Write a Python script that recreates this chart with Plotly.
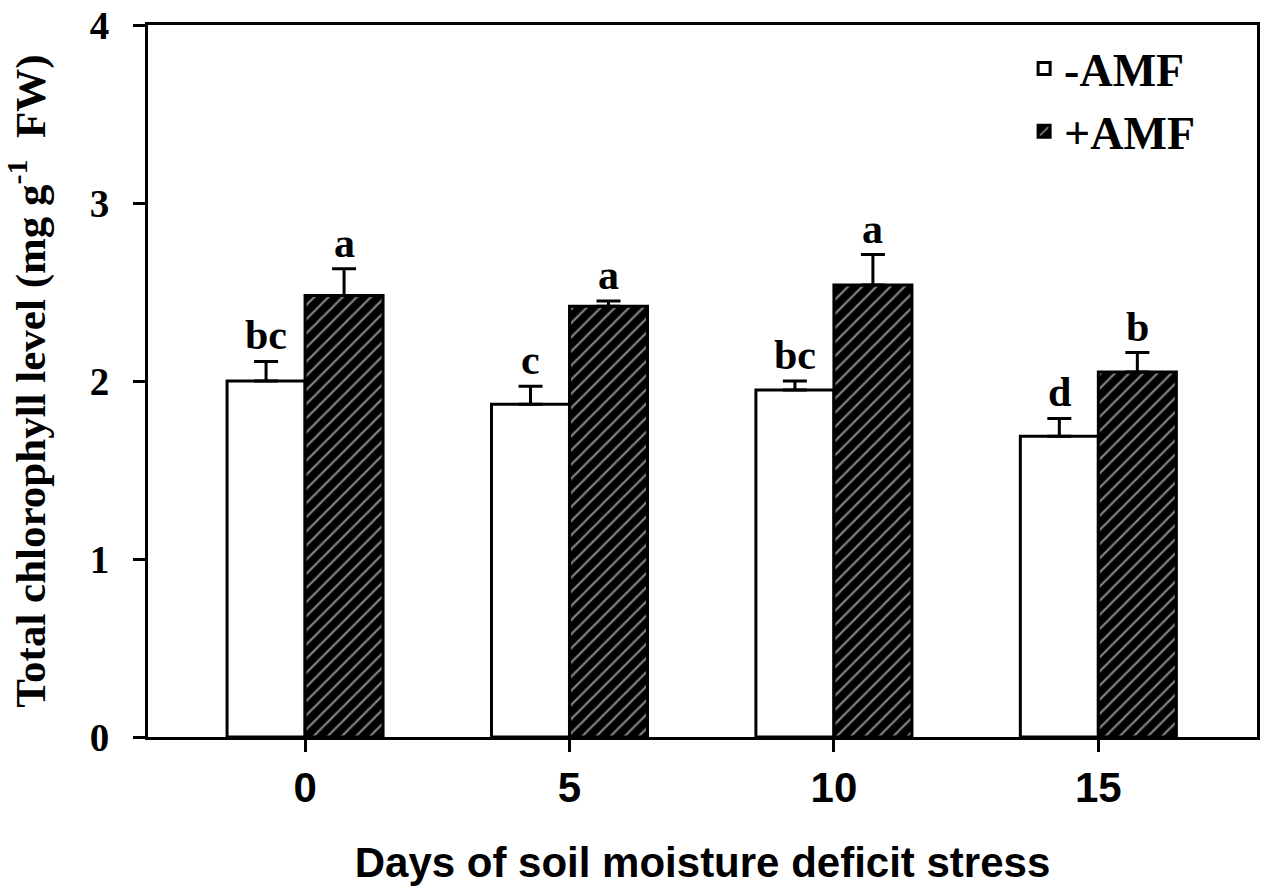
import plotly.graph_objects as go

# days of soil moisture deficit stress
days = [0, 5, 10, 15]
day_labels = ["0", "5", "10", "15"]

# total chlorophyll (mg g-1 FW), means and SE
no_amf = [2.00, 1.87, 1.95, 1.69]
no_amf_err = [0.11, 0.10, 0.05, 0.10]
amf = [2.48, 2.42, 2.54, 2.05]
amf_err = [0.15, 0.03, 0.17, 0.11]

# significance letters
no_amf_letters = ["bc", "c", "bc", "d"]
amf_letters = ["a", "a", "a", "b"]

serif = "Liberation Serif, Times New Roman, serif"
sans = "Liberation Sans, Arial, sans-serif"

bargap = 0.41
bar_w = 5 * (1 - bargap) / 2

fig = go.Figure()
fig.add_trace(go.Bar(
    x=days, y=no_amf, name="-AMF",
    marker=dict(color="white", line=dict(color="black", width=3)),
    error_y=dict(type="data", array=no_amf_err, arrayminus=[0] * len(days),
                 symmetric=False, color="black", thickness=3, width=12),
))
fig.add_trace(go.Bar(
    x=days, y=amf, name="+AMF",
    marker=dict(color="black", line=dict(color="black", width=3),
                pattern=dict(shape="/", bgcolor="black", fgcolor="white",
                             size=10, solidity=0.22)),
    error_y=dict(type="data", array=amf_err, arrayminus=[0] * len(days),
                 symmetric=False, color="black", thickness=3, width=12),
))

letter_font = dict(family=serif, size=42, color="black", weight="bold")
annotations = []
for d, v, e, t in zip(days, no_amf, no_amf_err, no_amf_letters):
    annotations.append(dict(x=d - bar_w / 2, y=v + e, text=t, showarrow=False,
                            yanchor="bottom", yshift=1, font=letter_font))
for d, v, e, t in zip(days, amf, amf_err, amf_letters):
    annotations.append(dict(x=d + bar_w / 2, y=v + e, text=t, showarrow=False,
                            yanchor="bottom", yshift=1, font=letter_font))

fig.update_layout(
    width=1266, height=894,
    margin=dict(l=148, r=9, t=25, b=157),
    plot_bgcolor="white", paper_bgcolor="white",
    barmode="group", bargap=bargap, bargroupgap=0,
    showlegend=True,
    legend=dict(x=0.79, y=0.99, xanchor="left", yanchor="top",
                bgcolor="rgba(0,0,0,0)", tracegroupgap=0,
                font=dict(family=serif, size=46, color="black", weight="bold")),
    annotations=annotations,
)
fig.update_xaxes(
    range=[-2.97, 18.0], tickvals=days, ticktext=day_labels,
    showline=True, linecolor="black", linewidth=3, mirror=True,
    ticks="outside", ticklen=12, tickwidth=3, tickcolor="black",
    showgrid=False, zeroline=False, ticklabelstandoff=0, automargin=False,
    tickfont=dict(family=sans, size=42, color="black", weight="bold"),
    title=dict(text="Days of soil moisture deficit stress", standoff=38,
               font=dict(family=sans, size=42, color="black", weight="bold")),
)
fig.update_yaxes(
    range=[0, 4], tickvals=[0, 1, 2, 3, 4],
    showline=True, linecolor="black", linewidth=3, mirror=True,
    ticks="outside", ticklen=12, tickwidth=3, tickcolor="black",
    showgrid=False, zeroline=False, ticklabelstandoff=16, automargin="left",
    tickfont=dict(family=serif, size=39, color="black", weight="bold"),
    title=dict(text="Total chlorophyll level (mg g<sup>-1</sup>  FW)", standoff=36,
               font=dict(family=serif, size=43, color="black", weight="bold")),
)

# drop the browser's default page margin so the figure sits at the window corner
fig.write_html("out.html", config={"displayModeBar": False},
               post_script="document.body.style.margin='0px';")
